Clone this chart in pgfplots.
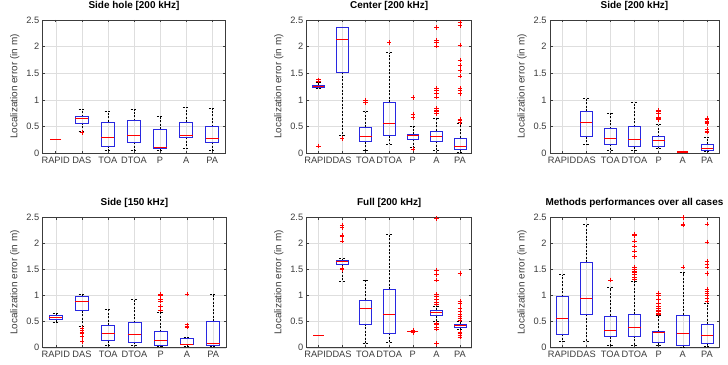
\documentclass[border=0pt]{standalone}
\usepackage{fontspec}
\setmainfont{Liberation Sans}
\usepackage{pgfplots}
\pgfplotsset{compat=1.18}
\usepgfplotslibrary{statistics}

\definecolor{boxblue}{RGB}{40,40,225}
\definecolor{axgray}{RGB}{60,60,60}
\definecolor{medred}{RGB}{255,0,0}

\pgfplotsset{
  panel/.style={
    scale only axis, anchor=south west,
    boxplot/draw direction=y,
    xmin=0.5, xmax=7.5, ymin=0, ymax=2.5,
    xtick={1,...,7}, xticklabels={RAPID,DAS,TOA,DTOA,P,A,PA},
    ytick={0,0.5,1,1.5,2,2.5}, yticklabels={0,0.5,1,1.5,2,2.5},
    grid=major, grid style={black!13, line width=0.4bp},
    axis line style={axgray, line width=0.5bp},
    tick style={axgray, line width=0.5bp}, major tick length=2.5bp,
    ticklabel style={font=\fontsize{9.3}{10}\selectfont, text=axgray},
    ylabel={Localization error (in m)},
    ylabel style={font=\fontsize{10}{11}\selectfont, text=axgray},
    title style={font=\fontsize{10}{11}\selectfont\bfseries, text=black},
  }
}

% one prepared box: position, lower whisker, Q1, median, Q3, upper whisker
\newcommand{\bx}[6]{%
  \addplot[boxplot prepared={draw position=#1, lower whisker=#2,
      lower quartile=#3, median=#4, upper quartile=#5, upper whisker=#6,
      box extend=0.5, whisker extend=0.25},
    boxplot/every box/.style={draw=boxblue, line width=0.6bp},
    boxplot/every median/.style={draw=medred, line width=0.6bp},
    boxplot/every whisker/.style={draw=black, line width=0.5bp,
      dash pattern=on 2bp off 1.5bp}] coordinates {};}
% collapsed box (all quartiles equal): a red median bar only
\newcommand{\bxt}[2]{%
  \addplot[only marks, mark=-, mark size=5.5bp, color=medred,
    mark options={line width=1.6bp, draw=medred}] coordinates {(#1,#2)};}
% outliers
\newcommand{\outl}[1]{%
  \addplot[only marks, mark=+, medred, mark size=2.2bp, line width=0.5bp]
    coordinates {#1};}

\begin{document}
\begin{tikzpicture}
\useasboundingbox (0,0) rectangle (728bp,365bp);

% ---- Side hole [200 kHz]
\begin{axis}[panel, at={(42.7bp,211.7bp)}, width=182.5bp, height=133.3bp,
  title={Side hole [200 kHz]}]
\bxt{1}{0.26}
\bx{2}{0.42}{0.57}{0.66}{0.69}{0.83}
\outl{(2,0.39)(2,0.40)}
\bx{3}{0.05}{0.14}{0.30}{0.59}{0.78}
\bx{4}{0.05}{0.21}{0.34}{0.61}{0.82}
\bx{5}{0.05}{0.09}{0.12}{0.45}{0.69}
\bx{6}{0.09}{0.30}{0.33}{0.58}{0.86}
\bx{7}{0.05}{0.21}{0.28}{0.50}{0.84}
\end{axis}

% ---- Center [200 kHz]
\begin{axis}[panel, at={(306.7bp,211.7bp)}, width=165bp, height=133.3bp,
  title={Center [200 kHz]}]
\bx{1}{1.22}{1.24}{1.26}{1.28}{1.33}
\outl{(1,1.36)(1,1.38)(1,0.14)}
\bx{2}{0.33}{1.52}{2.14}{2.36}{2.36}
\outl{(2,0.28)}
\bx{3}{0.05}{0.22}{0.31}{0.49}{0.78}
\outl{(3,0.95)(3,1.0)}
\bx{4}{0.17}{0.33}{0.56}{0.96}{1.89}
\outl{(4,2.08)}
\bx{5}{0.12}{0.26}{0.33}{0.36}{0.50}
\outl{(5,1.05)(5,0.74)(5,0.67)(5,0.08)}
\bx{6}{0.05}{0.23}{0.32}{0.42}{0.66}
\outl{(6,2.36)(6,2.12)(6,2.08)(6,2.01)(6,1.22)(6,1.18)(6,1.12)(6,1.06)(6,0.85)(6,0.80)(6,0.78)(6,0.75)}
\bx{7}{0.02}{0.08}{0.14}{0.29}{0.56}
\outl{(7,2.45)(7,2.40)(7,2.03)(7,1.75)(7,1.65)(7,1.55)(7,1.45)(7,1.22)(7,1.18)(7,1.12)(7,0.64)(7,0.62)(7,0.58)}
\end{axis}

% ---- Side [200 kHz]
\begin{axis}[panel, at={(550bp,211.7bp)}, width=169bp, height=133.3bp,
  title={Side [200 kHz]}]
\bx{2}{0.17}{0.31}{0.575}{0.79}{1.04}
\bx{3}{0.05}{0.17}{0.28}{0.46}{0.75}
\bx{4}{0.05}{0.125}{0.26}{0.50}{0.95}
\bx{5}{0.09}{0.125}{0.24}{0.31}{0.54}
\outl{(5,0.80)(5,0.78)(5,0.76)(5,0.68)(5,0.65)(5,0.63)}
\bxt{6}{0.02}
\bx{7}{0.04}{0.06}{0.10}{0.17}{0.30}
\outl{(7,0.40)(7,0.42)(7,0.45)(7,0.56)(7,0.58)(7,0.61)(7,0.63)(7,0.66)}
\end{axis}

% ---- Side [150 kHz]
\begin{axis}[panel, at={(42.7bp,17.3bp)}, width=183.5bp, height=130.4bp,
  title={Side [150 kHz]}]
\bx{1}{0.48}{0.54}{0.58}{0.62}{0.67}
\bx{2}{0.42}{0.71}{0.895}{0.98}{1.03}
\outl{(2,0.38)(2,0.33)(2,0.30)(2,0.27)(2,0.21)(2,0.12)}
\bx{3}{0.04}{0.135}{0.275}{0.435}{0.74}
\bx{4}{0.04}{0.10}{0.255}{0.48}{0.93}
\bx{5}{0.03}{0.04}{0.135}{0.31}{0.68}
\outl{(5,1.03)(5,1.0)(5,0.92)(5,0.9)(5,0.8)(5,0.72)}
\bx{6}{0.02}{0.065}{0.07}{0.185}{0.20}
\outl{(6,1.03)(6,0.44)(6,0.42)(6,0.40)}
\bx{7}{0.03}{0.04}{0.075}{0.51}{1.03}
\end{axis}

% ---- Full [200 kHz]
\begin{axis}[panel, at={(306.7bp,17.3bp)}, width=165bp, height=130.4bp,
  title={Full [200 kHz]}]
\bxt{1}{0.235}
\bx{2}{1.27}{1.60}{1.65}{1.68}{1.71}
\outl{(2,2.35)(2,2.30)(2,2.16)(2,2.13)(2,2.05)(2,1.52)(2,1.50)}
\bx{3}{0.08}{0.455}{0.755}{0.915}{1.30}
\bx{4}{0.11}{0.275}{0.64}{1.12}{2.18}
\bxt{5}{0.31}
\outl{(5,0.29)(5,0.30)(5,0.31)(5,0.32)(5,0.33)}
\bx{6}{0.50}{0.615}{0.67}{0.72}{0.80}
\outl{(6,2.48)(6,1.48)(6,1.40)(6,1.30)(6,1.02)(6,0.98)(6,0.92)(6,0.88)(6,0.84)(6,0.47)(6,0.44)(6,0.40)(6,0.36)(6,0.08)}
\bx{7}{0.35}{0.40}{0.42}{0.455}{0.50}
\outl{(7,1.42)(7,0.89)(7,0.85)(7,0.75)(7,0.70)(7,0.65)(7,0.60)(7,0.56)(7,0.53)(7,0.30)(7,0.27)(7,0.23)(7,0.20)}
\end{axis}

% ---- Methods performances over all cases
\begin{axis}[panel, at={(550bp,17.3bp)}, width=169bp, height=130.4bp,
  title={Methods performances over all cases}]
\bx{1}{0.115}{0.255}{0.57}{0.98}{1.40}
\bx{2}{0.115}{0.64}{0.945}{1.64}{2.37}
\bx{3}{0.04}{0.21}{0.325}{0.61}{1.15}
\outl{(3,1.30)}
\bx{4}{0.04}{0.225}{0.385}{0.64}{1.28}
\outl{(4,2.18)(4,2.15)(4,2.05)(4,1.95)(4,1.85)(4,1.75)(4,1.55)(4,1.50)(4,1.47)(4,1.45)(4,1.40)(4,1.35)(4,1.32)}
\bx{5}{0.04}{0.095}{0.29}{0.31}{0.62}
\outl{(5,1.05)(5,1.0)(5,0.92)(5,0.85)(5,0.80)(5,0.75)(5,0.72)(5,0.70)(5,0.67)(5,0.65)}
\bx{6}{0.01}{0.05}{0.28}{0.63}{1.44}
\outl{(6,2.50)(6,2.37)(6,2.35)(6,1.55)}
\bx{7}{0.02}{0.085}{0.23}{0.45}{0.85}
\outl{(7,2.37)(7,2.03)(7,1.65)(7,1.60)(7,1.55)(7,1.42)(7,1.12)(7,1.08)(7,1.05)(7,1.00)(7,0.95)(7,0.90)}
\end{axis}
\end{tikzpicture}
\end{document}
